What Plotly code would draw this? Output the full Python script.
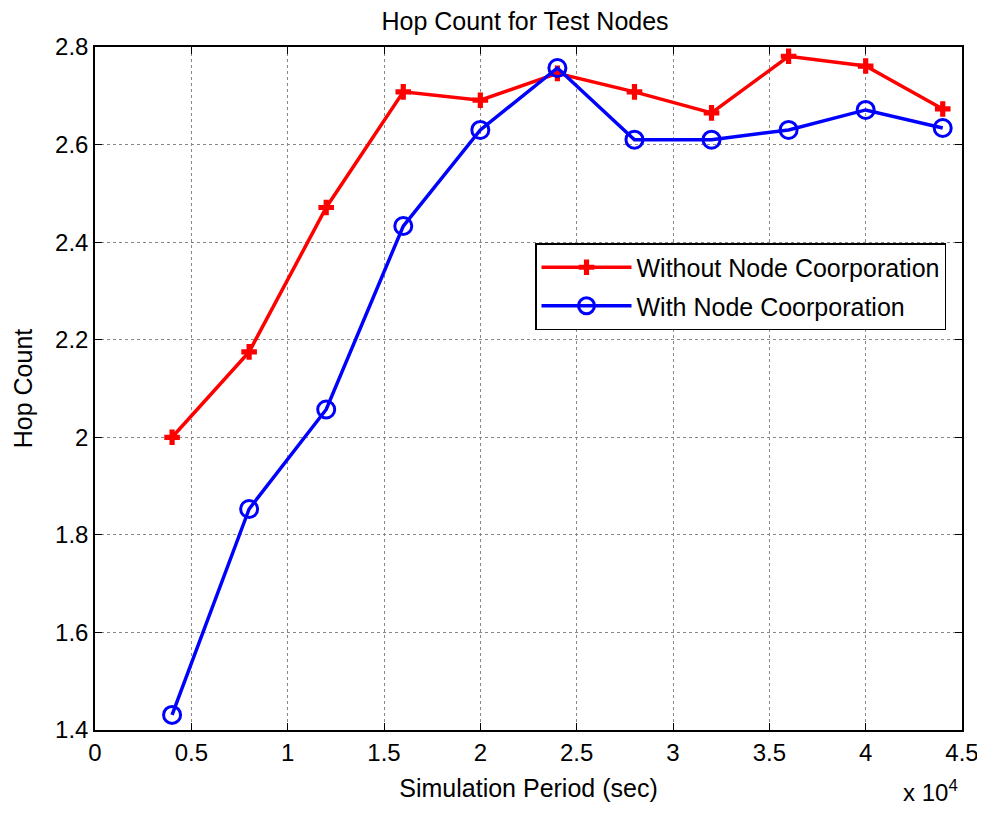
import plotly.graph_objects as go

x_vals = [0.4, 0.8, 1.2, 1.6, 2.0, 2.4, 2.8, 3.2, 3.6, 4.0, 4.4]
without_coop = [2.000, 2.175, 2.471, 2.708, 2.691, 2.746, 2.708, 2.665, 2.781, 2.761, 2.673]
with_coop = [1.431, 1.853, 2.057, 2.433, 2.630, 2.757, 2.610, 2.610, 2.630, 2.671, 2.634]
x_ticks = [0, 0.5, 1, 1.5, 2, 2.5, 3, 3.5, 4, 4.5]
x_tick_text = ["0", "0.5", "1", "1.5", "2", "2.5", "3", "3.5", "4", "4.5"]
y_ticks = [1.4, 1.6, 1.8, 2.0, 2.2, 2.4, 2.6, 2.8]
y_tick_text = ["1.4", "1.6", "1.8", "2", "2.2", "2.4", "2.6", "2.8"]

FONT = "Liberation Sans, Arial, sans-serif"

fig = go.Figure()
fig.add_trace(go.Scatter(
    x=x_vals, y=without_coop, mode="lines+markers",
    name="Without Node Coorporation", legendgroup="a",
    line=dict(color="#ff0000", width=3.5),
    marker=dict(symbol="cross", size=13, color="#ff0000"),
))
fig.add_trace(go.Scatter(
    x=x_vals, y=with_coop, mode="lines+markers",
    name="With Node Coorporation", legendgroup="b",
    line=dict(color="#0000ff", width=3.5),
    marker=dict(symbol="circle-open", size=17, color="#0000ff", line=dict(width=3, color="#0000ff")),
))

axis_common = dict(
    showgrid=True, gridcolor="#888888", griddash="dot", gridwidth=1,
    showline=True, linecolor="black", linewidth=1.5, mirror="ticks",
    ticks="inside", ticklen=7, tickcolor="black",
    zeroline=False, automargin=False, ticklabeloverflow="allow",
    tickfont=dict(family=FONT, size=24, color="black"),
)

fig.update_layout(
    width=975, height=800,
    margin=dict(l=87, r=21, t=39, b=78),
    paper_bgcolor="white", plot_bgcolor="white",
    title=dict(text="Hop Count for Test Nodes", xref="paper", x=0.496, xanchor="center",
               yref="container", y=0.984, yanchor="middle",
               font=dict(family=FONT, size=25, color="black")),
    xaxis=dict(range=[0, 4.5], tickvals=x_ticks, ticktext=x_tick_text,
               title=dict(text="Simulation Period (sec)", font=dict(family=FONT, size=25, color="black"), standoff=15),
               **axis_common),
    yaxis=dict(range=[1.4, 2.8], tickvals=y_ticks, ticktext=y_tick_text,
               title=dict(text="Hop Count", font=dict(family=FONT, size=25, color="black"), standoff=15),
               **axis_common),
    legend=dict(x=0.5075, y=0.713, xanchor="left", yanchor="top",
                bgcolor="white", bordercolor="black", borderwidth=1.5,
                font=dict(family=FONT, size=25, color="black"),
                traceorder="grouped", tracegroupgap=3, itemwidth=90),
    showlegend=True,
)

fig.add_annotation(text="x 10<sup>4</sup>", xref="paper", yref="paper", x=0.998, y=-0.114,
                   xanchor="right", yanchor="bottom", showarrow=False,
                   font=dict(family=FONT, size=24, color="black"))

fig.write_html("out.html")
